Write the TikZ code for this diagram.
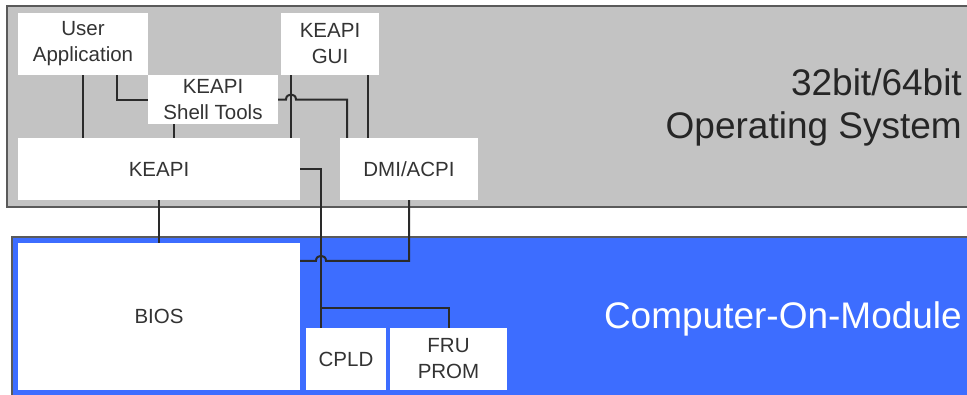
\documentclass[tikz,border=0pt]{standalone}
\usepackage{fontspec}
\setmainfont{Liberation Sans}
\definecolor{osgray}{HTML}{C3C3C3}
\definecolor{osedge}{HTML}{5A5A5A}
\definecolor{comblue}{HTML}{3D6DFF}
\definecolor{txt}{HTML}{333333}
\definecolor{wirec}{HTML}{2A2A2A}
\begin{document}
\begin{tikzpicture}[x=1pt,y=-1pt,
  box/.style={fill=white, inner sep=0pt, align=center, text=txt,
    font=\fontsize{20.5}{26}\selectfont},
  wire/.style={draw=wirec, line width=2pt},
  big/.style={font=\fontsize{37}{43}\selectfont, inner sep=0pt}]
\useasboundingbox (0,0) rectangle (967,394);
\clip (0,0) rectangle (967,394);
\fill[white] (0,0) rectangle (967,394);
% layers
\draw[fill=osgray, draw=osedge, line width=2.5pt] (7,6) rectangle (995,207);
\draw[fill=comblue, draw=osedge, line width=2pt] (12,237) rectangle (995,420);
% boxes
\node[box, minimum width=130pt, minimum height=62pt] (ua) at (83,44) {User\\Application};
\node[box, minimum width=98pt, minimum height=62pt] (gui) at (330,44) {KEAPI\\GUI};
\node[box, minimum width=130pt, minimum height=49pt] (sh) at (213,99.5) {KEAPI\\Shell Tools};
\node[box, minimum width=282pt, minimum height=62pt] (ke) at (159,169) {KEAPI};
\node[box, minimum width=138pt, minimum height=62pt] (dmi) at (409,169) {DMI/ACPI};
\node[box, minimum width=282pt, minimum height=147pt] (bios) at (159,316.5) {BIOS};
\node[box, minimum width=80pt, minimum height=62pt] (cpld) at (346,359) {CPLD};
\node[box, minimum width=117pt, minimum height=62pt] (fru) at (448.5,359) {FRU\\PROM};
% layer labels
\node[big, text=black!85, anchor=base east] (os1) at (962,95) {32bit/64bit};
\node[big, text=black!85, anchor=base east] (os2) at (962,138) {Operating System};
\node[big, text=white, anchor=base east] (com) at (962,328) {Computer-On-Module};
% helper coordinates
\path ([xshift=-39pt]gui.south) coordinate (g1);
\path ([xshift=38pt]gui.south) coordinate (g2);
\path ([xshift=-62pt]dmi.north) coordinate (d1);
\path ([xshift=34pt]ua.south) coordinate (u1);
\path ([xshift=-39pt]sh.south) coordinate (s1);
\path ([xshift=-25pt]cpld.north) coordinate (c1);
\path ([yshift=-18pt]bios.north east) coordinate (bj);
\path (g1 |- sh.east) coordinate (hopa);
\path (c1 |- bj) coordinate (hopb);
% connectors
\draw[wire] (ua.south) -- (ua.south |- ke.north);
\draw[wire] (u1) |- (sh.west);
\draw[wire] (s1) -- (s1 |- ke.north);
\draw[wire] (g1) -- (g1 |- ke.north);
\draw[wire] (g2) -- (g2 |- dmi.north);
\draw[wire] (sh.east) -- ([xshift=-5pt]hopa) .. controls +(0pt,6.7pt) and +(0pt,6.7pt) .. ([xshift=5pt]hopa) -- (d1 |- sh.east) -- (d1);
\draw[wire] (ke.east) -| (c1);
\draw[wire] ([yshift=20pt]c1) -| (fru.north);
\draw[wire] (ke.south) -- (ke.south |- bios.north);
\draw[wire] (dmi.south) |- ([xshift=5pt]hopb) .. controls +(0pt,6.7pt) and +(0pt,6.7pt) .. ([xshift=-5pt]hopb) -- (bj);
\end{tikzpicture}
\end{document}
